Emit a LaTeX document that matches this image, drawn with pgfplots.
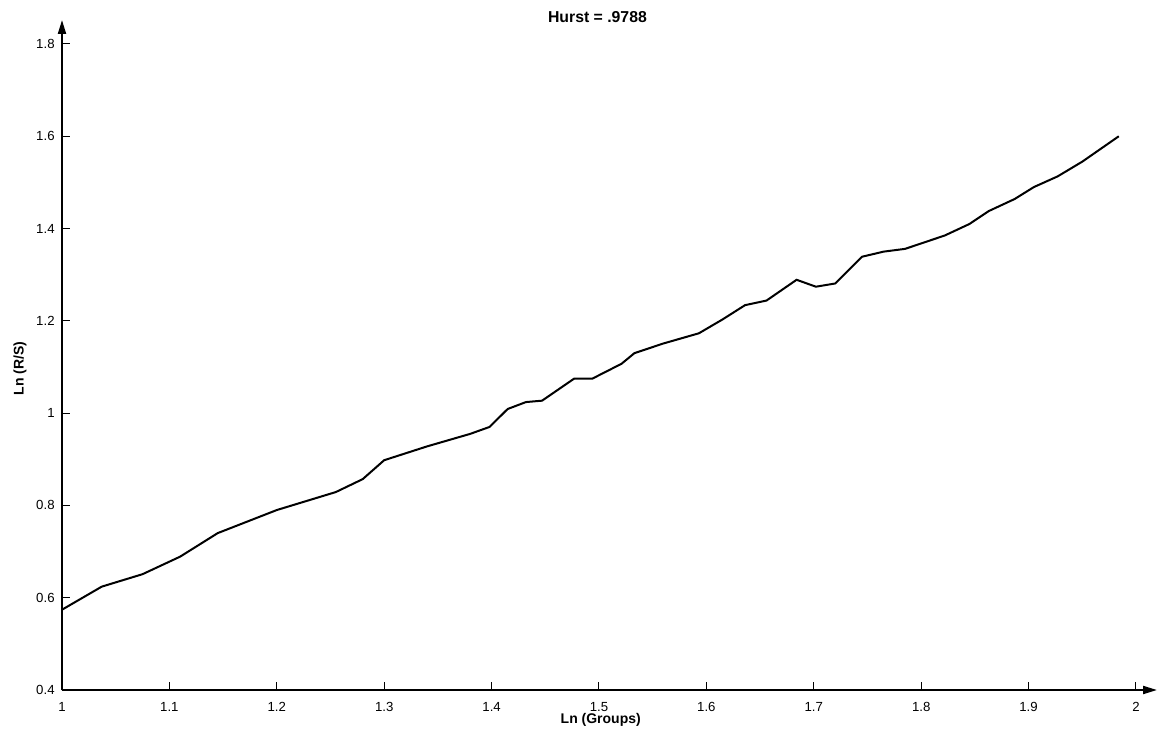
\documentclass[border=0pt]{standalone}
\usepackage{fontspec}
\setmainfont{Liberation Sans}
\usepackage{pgfplots}
\pgfplotsset{compat=1.18}
\usetikzlibrary{arrows.meta}
\begin{document}
\begin{tikzpicture}
\path[use as bounding box] (-31pt,-24pt) rectangle (548.5pt,345pt);
\begin{axis}[
  scale only axis, width=547.5pt, height=335pt,
  at={(0,0)}, anchor=south west,
  xmin=1, xmax=2.0196, ymin=0.4, ymax=1.852,
  axis x line=bottom, axis y line=left,
  axis line style={line width=1pt, -{Triangle[length=7pt,width=4pt]}},
  xtick={1,1.1,1.2,1.3,1.4,1.5,1.6,1.7,1.8,1.9,2},
  ytick={0.4,0.6,0.8,1,1.2,1.4,1.6,1.8},
  xticklabels={1,1.1,1.2,1.3,1.4,1.5,1.6,1.7,1.8,1.9,2},
  yticklabels={0.4,0.6,0.8,1,1.2,1.4,1.6,1.8},
  tick align=inside, major tick length=4pt,
  tick style={black, line width=0.5pt},
  ticklabel style={font=\fontsize{6.6}{7.5}\selectfont},
  xticklabel style={anchor=base, inner sep=0pt, yshift=-10.5pt},
  yticklabel style={anchor=east, inner sep=0pt, xshift=-3.5pt},
  every axis title shift=0pt,
  title={\bfseries Hurst = .9788},
  title style={at={([yshift=-1.5pt]rel axis cs:0.489,1)}, anchor=base, font=\fontsize{7.9}{9}\selectfont},
  xlabel={\bfseries Ln (Groups)},
  xlabel style={at={([yshift=-16.5pt]rel axis cs:0.492,0)}, anchor=base, font=\fontsize{7}{8}\selectfont},
  ylabel={\bfseries Ln (R/S)},
  ylabel style={at={([xshift=-21pt]rel axis cs:0,0.48)}, anchor=center, font=\fontsize{7}{8}\selectfont},
  clip=false,
]
\addplot[black, line width=1pt] coordinates {
(1.000,0.574)
(1.037,0.624)
(1.075,0.651)
(1.110,0.689)
(1.145,0.740)
(1.200,0.790)
(1.255,0.829)
(1.280,0.857)
(1.300,0.898)
(1.340,0.928)
(1.380,0.955)
(1.398,0.970)
(1.415,1.009)
(1.432,1.024)
(1.447,1.027)
(1.477,1.075)
(1.494,1.075)
(1.521,1.107)
(1.533,1.130)
(1.560,1.151)
(1.593,1.173)
(1.615,1.203)
(1.636,1.234)
(1.656,1.244)
(1.684,1.289)
(1.702,1.274)
(1.720,1.281)
(1.745,1.339)
(1.765,1.350)
(1.785,1.356)
(1.822,1.385)
(1.845,1.410)
(1.863,1.438)
(1.887,1.464)
(1.905,1.490)
(1.927,1.513)
(1.950,1.545)
(1.984,1.600)
};
\end{axis}
\end{tikzpicture}
\end{document}
